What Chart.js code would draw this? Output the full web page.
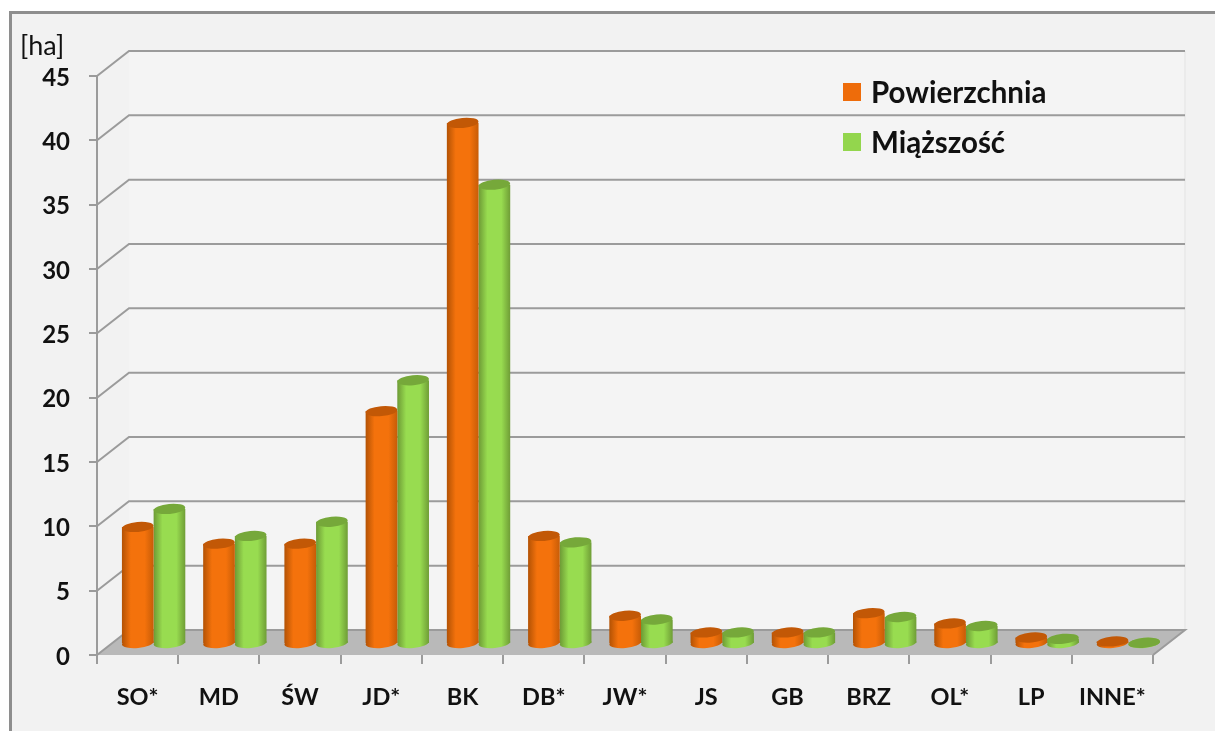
<!DOCTYPE html>
<html>
<head>
<meta charset="utf-8">
<script src="https://cdn.jsdelivr.net/npm/chart.js@4"></script>
<style>
  html, body { margin: 0; padding: 0; background: #fff; }
  #panel { position: absolute; left: 9px; top: 11px; width: 1400px; height: 900px; box-sizing: border-box; background: #f2f2f2; border: 3px solid #8e8e8e; }
  #wrap { position: absolute; left: 0; top: 0; width: 1215px; height: 731px; overflow: hidden; }
  canvas { position: absolute; left: 0; top: 0; }
</style>
</head>
<body>
<div id="wrap">
  <div id="panel"></div>
  <canvas id="chart" width="1215" height="731"></canvas>
</div>
<script>
const categories = ['SO*', 'MD', 'ŚW', 'JD*', 'BK', 'DB*', 'JW*', 'JS', 'GB', 'BRZ', 'OL*', 'LP', 'INNE*'];
const powierzchnia = [9.1, 7.8, 7.8, 18.1, 40.5, 8.4, 2.2, 0.9, 0.9, 2.4, 1.6, 0.5, 0.2];
const miazszosc = [10.5, 8.4, 9.5, 20.5, 35.7, 7.9, 1.9, 0.9, 0.9, 2.1, 1.4, 0.4, 0.1];
const seriesNames = ['Powierzchnia', 'Miąższość'];

const font = 'Lato, Carlito, sans-serif';
const gridColor = '#9b9b9b';
// depth of the fake 3D box
const depthX = 32, depthY = 25;
// bars stand half way into the box
const barDX = 16, barDY = 11;
const catShare = 0.78;

const orange = { edgeL: '#b35204', mid: '#f4720c', edgeR: '#c75c07', top: '#c25806', flat: '#ee6c0a' };
const green = { edgeL: '#6d9a35', mid: '#98dc50', edgeR: '#6f9d36', top: '#76a83a', flat: '#93d64d' };

function cylinderFill(c, col) {
  const xs = c.chart.scales.x;
  if (!xs || c.dataIndex === undefined || !isFinite(xs.width)) return col.mid;
  const w = xs.width / categories.length * catShare / 2;
  const left = xs.getPixelForValue(c.dataIndex) - w + w * c.datasetIndex;
  if (!isFinite(left)) return col.mid;
  // gradient is in canvas coords but the context is translated when it is used
  const g = c.chart.ctx.createLinearGradient(left, 0, left + w, 0);
  g.addColorStop(0, col.edgeL);
  g.addColorStop(0.28, col.mid);
  g.addColorStop(0.72, col.mid);
  g.addColorStop(1, col.edgeR);
  return g;
}

const box3d = {
  id: 'box3d',
  beforeDatasetsDraw(chart) {
    const { ctx, chartArea: a, scales: { y } } = chart;
    const top = a.top - depthY, bot = a.bottom - depthY;
    ctx.save();
    // back wall
    ctx.fillStyle = '#f4f4f4';
    ctx.fillRect(a.left + depthX, top, a.right - a.left, bot - top);
    ctx.strokeStyle = '#e3e3e3';
    ctx.lineWidth = 1;
    ctx.beginPath();
    ctx.moveTo(a.right + depthX, top);
    ctx.lineTo(a.right + depthX, bot);
    ctx.stroke();
    // floor
    ctx.fillStyle = '#b9b9b9';
    ctx.beginPath();
    ctx.moveTo(a.left, a.bottom);
    ctx.lineTo(a.left + depthX, bot);
    ctx.lineTo(a.right + depthX, bot);
    ctx.lineTo(a.right, a.bottom);
    ctx.closePath();
    ctx.fill();
    // grid lines go along the side wall and then the back wall
    ctx.strokeStyle = gridColor;
    ctx.lineWidth = 2;
    y.ticks.forEach(t => {
      const py = y.getPixelForValue(t.value);
      ctx.beginPath();
      ctx.moveTo(a.left, py);
      ctx.lineTo(a.left + depthX, py - depthY);
      ctx.lineTo(a.right + depthX, py - depthY);
      if (t.value === 0) ctx.lineTo(a.right, py);
      ctx.stroke();
    });
    ctx.restore();
    // all bars are drawn shifted into the box
    ctx.save();
    ctx.translate(barDX, -barDY);
  },
  afterDatasetDraw(chart, args) {
    const { ctx } = chart;
    const col = args.index === 0 ? orange : green;
    args.meta.data.forEach(bar => {
      const rx = bar.width / 2;
      ctx.save();
      // bottom of the cylinder
      ctx.fillStyle = bar.options.backgroundColor;
      ctx.beginPath();
      ctx.ellipse(bar.x, bar.base, rx, 5, -0.09, 0, Math.PI * 2);
      ctx.fill();
      // lid
      ctx.fillStyle = col.top;
      ctx.beginPath();
      ctx.ellipse(bar.x, bar.y, rx, 5, -0.09, 0, Math.PI * 2);
      ctx.fill();
      ctx.restore();
    });
  },
  afterDatasetsDraw(chart) {
    chart.ctx.restore();
  },
  afterDraw(chart) {
    const { ctx } = chart;
    ctx.save();
    ctx.textBaseline = 'middle';
    ctx.fillStyle = '#111';
    ctx.font = '27px ' + font;
    ctx.fillText('[ha]', 20, 46);
    ctx.font = 'bold 29.5px ' + font;
    ctx.fillStyle = orange.flat;
    ctx.fillRect(843, 83, 18, 18);
    ctx.fillStyle = green.flat;
    ctx.fillRect(843, 133, 18, 18);
    ctx.fillStyle = '#111';
    ctx.fillText(seriesNames[0], 871, 93);
    ctx.fillText(seriesNames[1], 871, 143);
    ctx.restore();
  }
};

new Chart(document.getElementById('chart'), {
  type: 'bar',
  data: {
    labels: categories,
    datasets: [
      { label: seriesNames[0], data: powierzchnia, clip: false, borderWidth: 0, backgroundColor: c => cylinderFill(c, orange) },
      { label: seriesNames[1], data: miazszosc, clip: false, borderWidth: 0, backgroundColor: c => cylinderFill(c, green) }
    ]
  },
  options: {
    responsive: false,
    animation: false,
    layout: { padding: { left: 0, top: 76, right: 62, bottom: 0 } },
    categoryPercentage: catShare,
    barPercentage: 1,
    scales: {
      x: {
        afterFit: s => { s.height = 76; },
        grid: { drawOnChartArea: false, color: gridColor, lineWidth: 2, tickLength: 9 },
        border: { display: false },
        ticks: { color: '#111', padding: 19, maxRotation: 0, font: { family: font, size: 23.5, weight: 'bold' } }
      },
      y: {
        min: 0,
        max: 45,
        afterFit: s => { s.width = 97; },
        grid: { drawOnChartArea: false, color: gridColor, lineWidth: 2, tickLength: 8 },
        border: { color: gridColor, width: 2 },
        ticks: { stepSize: 5, color: '#111', padding: 19, labelOffset: 2, font: { family: font, size: 24, weight: 'bold' } }
      }
    },
    plugins: { legend: { display: false }, tooltip: { enabled: false } }
  },
  plugins: [box3d]
});
</script>
</body>
</html>
